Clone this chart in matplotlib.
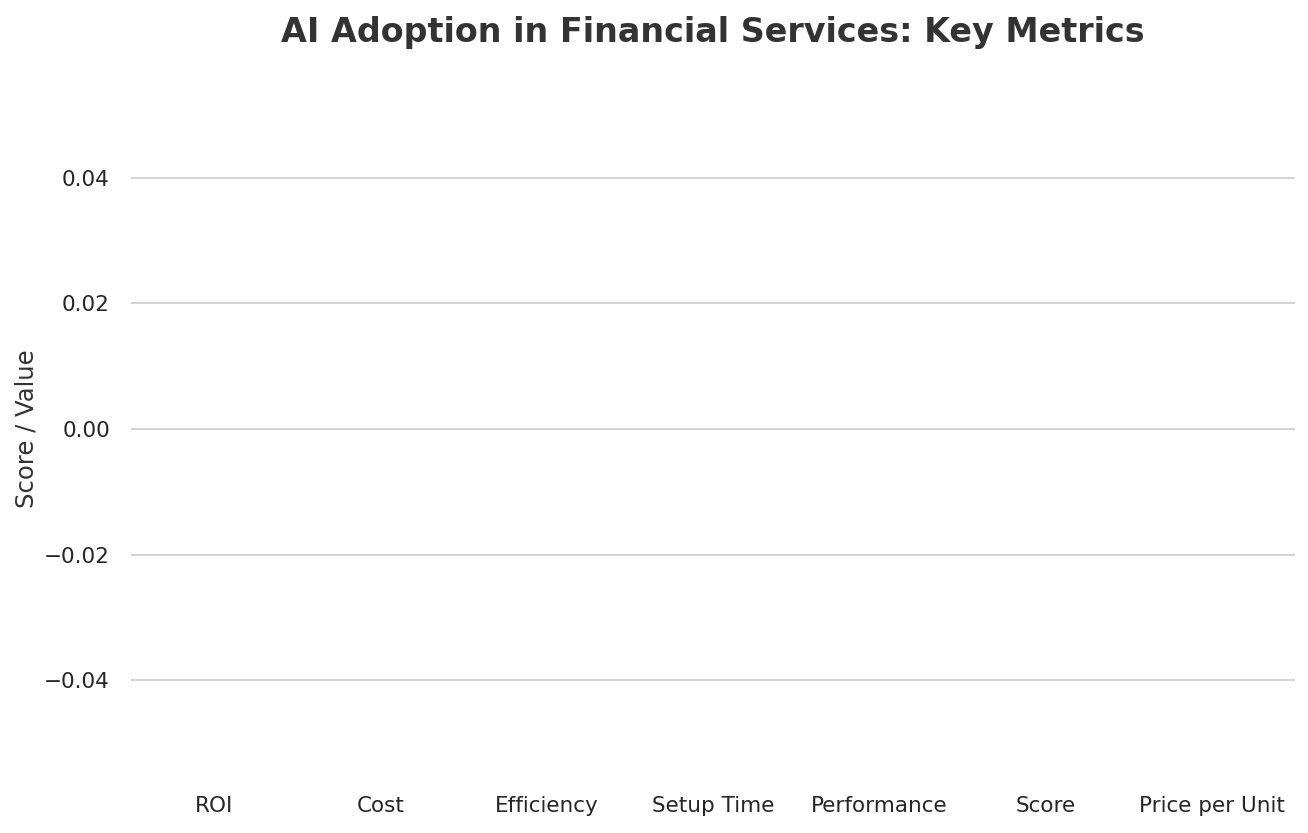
import matplotlib
matplotlib.use('Agg')
import matplotlib.pyplot as plt
import seaborn as sns
import numpy as np

# categories and values (the reference shows no visible bars)
metrics = ['ROI', 'Cost', 'Efficiency', 'Setup Time', 'Performance', 'Score', 'Price per Unit']
values = [0, 0, 0, 0, 0, 0, 0]
y_ticks = [-0.04, -0.02, 0.00, 0.02, 0.04]

sns.set_theme(style='whitegrid')
plt.rcParams['font.family'] = ['DejaVu Sans']

fig, ax = plt.subplots(figsize=(13.08, 8.33), dpi=100)

x = np.arange(len(metrics))
ax.bar(x, values, width=0.6, color='#4c72b0', linewidth=0)

ax.set_xlim(-0.5, len(metrics) - 0.5)
ax.set_ylim(-0.055, 0.055)
ax.set_yticks(y_ticks)
ax.set_yticklabels([f'{t:.2f}'.replace('-', '\u2212') for t in y_ticks])
ax.set_xticks(x)
ax.set_xticklabels(metrics)
ax.tick_params(axis='both', labelsize=15.5, colors='#262626', length=0)
ax.tick_params(axis='y', pad=15)
ax.tick_params(axis='x', pad=15)

ax.grid(axis='x', visible=False)
ax.grid(axis='y', color='#cccccc', linewidth=1.2)
for s in ax.spines.values():
    s.set_visible(False)

ax.set_ylabel('Score / Value', fontsize=17.5, color='#333333', labelpad=4)
ax.set_title('AI Adoption in Financial Services: Key Metrics', fontsize=24,
             fontweight='bold', color='#333333', pad=30)

fig.subplots_adjust(left=0.1, right=0.99, top=0.9, bottom=0.07)
fig.savefig('out.png', dpi=100)
